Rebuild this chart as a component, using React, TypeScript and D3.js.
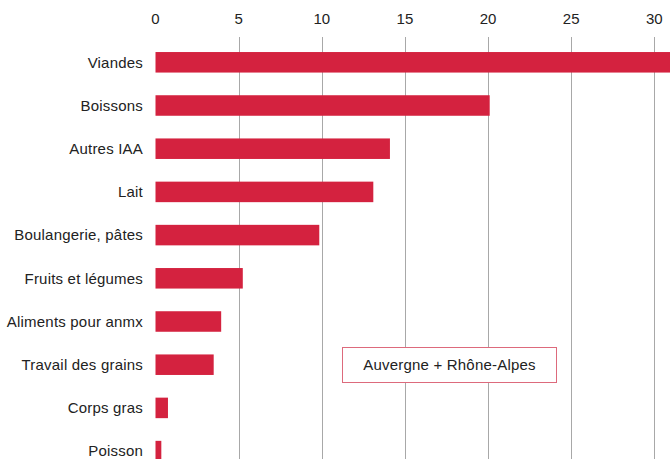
import React from "react";
import * as d3 from "d3";

const categories = [
  "Viandes",
  "Boissons",
  "Autres IAA",
  "Lait",
  "Boulangerie, pâtes",
  "Fruits et légumes",
  "Aliments pour anmx",
  "Travail des grains",
  "Corps gras",
  "Poisson",
];
const values = [31.5, 20.1, 14.1, 13.1, 9.85, 5.25, 3.95, 3.5, 0.75, 0.35];
const ticks = [0, 5, 10, 15, 20, 25, 30];
const legendLabel = "Auvergne + Rhône-Alpes";

const W = 670;
const H = 459;

export default function App() {
  const x = d3.scaleLinear().domain([0, 30]).range([155.5, 654.3]);
  const y = d3
    .scaleBand<string>()
    .domain(categories)
    .range([40.7, 40.7 + 43.2 * categories.length])
    .paddingInner(0.525)
    .paddingOuter(0.2625);
  const font = "'Liberation Sans', Arial, sans-serif";
  return (
    <svg
      width={W}
      height={H}
      style={{ position: "absolute", left: 0, top: 0, background: "#fff" }}
      fontFamily={font}
    >
      {ticks
        .filter((t) => t > 0)
        .map((t) => (
          <line
            key={"g" + t}
            x1={Math.round(x(t)) + 0.5}
            x2={Math.round(x(t)) + 0.5}
            y1={37}
            y2={H}
            stroke="#a8a8a8"
            strokeWidth={1}
          />
        ))}
      {ticks.map((t) => (
        <text
          key={"t" + t}
          x={x(t)}
          y={24}
          textAnchor="middle"
          fontSize={15}
          fill="#222"
        >
          {t}
        </text>
      ))}
      {categories.map((c, i) => (
        <g key={c}>
          <rect
            x={x(0)}
            y={y(c)}
            width={x(values[i]) - x(0)}
            height={y.bandwidth()}
            fill="#D4223F"
          />
          <text
            x={143}
            y={(y(c) as number) + y.bandwidth() / 2}
            dy="0.35em"
            textAnchor="end"
            fontSize={15}
            letterSpacing={0.2}
            fill="#222"
          >
            {c}
          </text>
        </g>
      ))}
      <rect
        x={342.5}
        y={347.5}
        width={214}
        height={35}
        fill="#fff"
        stroke="#DD6A7C"
        strokeWidth={1}
      />
      <text
        x={449.5}
        y={365}
        dy="0.35em"
        textAnchor="middle"
        fontSize={15}
        letterSpacing={0.2}
        fill="#222"
      >
        {legendLabel}
      </text>
    </svg>
  );
}
